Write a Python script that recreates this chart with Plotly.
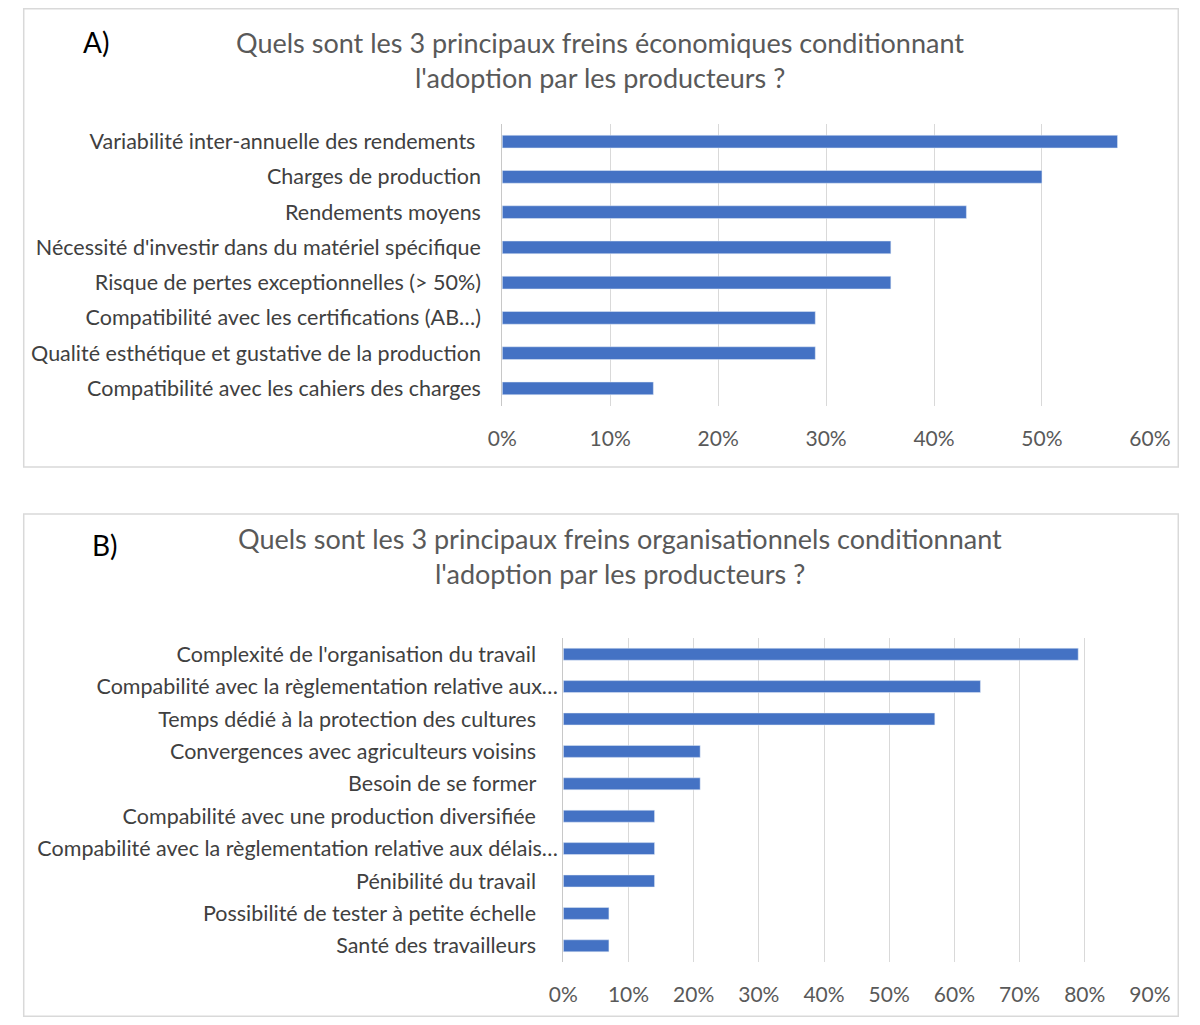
import plotly.graph_objects as go

# Data
freins_eco = [
    "Variabilité inter-annuelle des rendements\u00a0",
    "Charges de production",
    "Rendements moyens",
    "Nécessité d'investir dans du matériel spécifique",
    "Risque de pertes exceptionnelles (> 50%)",
    "Compatibilité avec les certifications (AB…)",
    "Qualité esthétique et gustative de la production",
    "Compatibilité avec les cahiers des charges",
]
pct_eco = [0.57, 0.50, 0.43, 0.36, 0.36, 0.29, 0.29, 0.14]

freins_orga = [
    "Complexité de l'organisation du travail",
    "Compabilité avec la règlementation relative aux…",
    "Temps dédié à la protection des cultures",
    "Convergences avec agriculteurs voisins",
    "Besoin de se former",
    "Compabilité avec une production diversifiée",
    "Compabilité avec la règlementation relative aux délais…",
    "Pénibilité du travail",
    "Possibilité de tester à petite échelle",
    "Santé des travailleurs",
]
pct_orga = [0.79, 0.64, 0.57, 0.21, 0.21, 0.14, 0.14, 0.14, 0.07, 0.07]

titre_a = ["Quels sont les 3 principaux freins économiques conditionnant",
           "l'adoption par les producteurs ?"]
titre_b = ["Quels sont les 3 principaux freins organisationnels conditionnant",
           "l'adoption par les producteurs ?"]

# height kept under the window so the 8px body margin doesn't overflow
W, H = 1200, 1009
OFF = 8
BLUE = "#4472C4"
GRID = "#D9D9D9"
TXT = "#595959"
FONT = "Lato"


# positions are given in picture pixels, converted to paper fractions
def px(x):
    s = (x - 15.5) / 0.969 - OFF
    return min(max(s, 0.75), 1191) / W


def py(y):
    return 1 - min(max(y - OFF, 0.75), H - 0.75) / H


# Excel keeps the truncated labels closer to the axis
labels_orga = [t if t.endswith("…") else t + "\u00a0" * 4 for t in freins_orga]

fig = go.Figure()

fig.add_trace(go.Bar(x=pct_eco, y=freins_eco, orientation="h",
                     marker_color=BLUE, width=0.36, xaxis="x", yaxis="y",
                     showlegend=False))
fig.add_trace(go.Bar(x=pct_orga, y=freins_orga, orientation="h",
                     marker_color=BLUE, width=0.37, xaxis="x2", yaxis="y2",
                     showlegend=False))

xcommon = dict(tickformat=".0%", dtick=0.1, showgrid=True, gridcolor=GRID,
               gridwidth=1, zeroline=False, showline=False, ticks="",
               tickfont=dict(family=FONT, size=21, color=TXT),
               ticklabelstandoff=18, fixedrange=True)
ycommon = dict(autorange="reversed", showgrid=False, zeroline=False,
               showline=True, linecolor="#C8C8C8", linewidth=1, ticks="",
               tickfont=dict(family=FONT, size=21.5, color="#404040"),
               fixedrange=True)

fig.update_layout(
    width=W, height=H,
    margin=dict(l=0, r=0, t=0, b=0),
    paper_bgcolor="white", plot_bgcolor="white",
    xaxis=dict(domain=[px(502), px(1149)], range=[0, 0.6], anchor="y", **xcommon),
    yaxis=dict(domain=[py(406), py(124)], anchor="x", ticklabelstandoff=16,
               **ycommon),
    xaxis2=dict(domain=[px(563), px(1149)], range=[0, 0.9], anchor="y2", **xcommon),
    yaxis2=dict(domain=[py(962), py(638)], anchor="x2", ticklabelstandoff=0,
                tickmode="array", tickvals=freins_orga, ticktext=labels_orga,
                **ycommon),
)

# cadres des deux graphiques
for top, bottom in [(2, 467), (514, 1022)]:
    fig.add_shape(type="rect", xref="paper", yref="paper",
                  x0=px(2), x1=px(1198), y0=py(bottom), y1=py(top),
                  line=dict(color=GRID, width=1.5), fillcolor="rgba(0,0,0,0)")

# titres
for txt, x, y in [(titre_a[0], 600, 42), (titre_a[1], 600, 77.5),
                  (titre_b[0], 620, 538), (titre_b[1], 620, 573.5)]:
    fig.add_annotation(text=txt, x=px(x), y=py(y), xref="paper", yref="paper",
                       showarrow=False, xanchor="center", yanchor="middle",
                       font=dict(family=FONT, size=27, color=TXT))

for txt, x, y in [("A)", 96, 42), ("B)", 105, 545)]:
    fig.add_annotation(text=txt, x=px(x), y=py(y), xref="paper", yref="paper",
                       showarrow=False, xanchor="center", yanchor="middle",
                       font=dict(family=FONT, size=28, color="black"))

fig.write_html("out.html")
